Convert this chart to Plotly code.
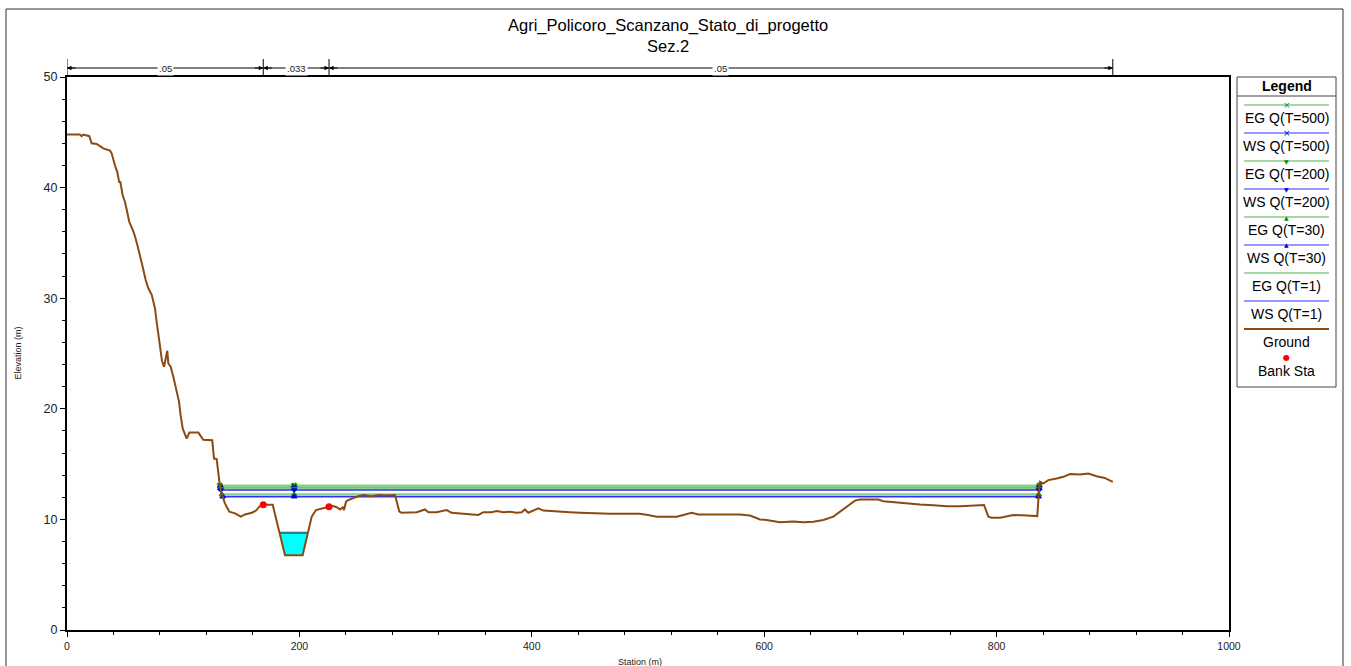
import numpy as np
import plotly.graph_objects as go

# ---------------- data ----------------
ground_sta = [0, 11, 12.6, 14, 19.2, 21.2, 25.5, 31.3, 37, 38.4,
              41.3, 43.3, 44.9, 45.9, 47.9, 49.9, 51.4, 53.6, 56.5, 58.5,
              60.8, 62.8, 65.1, 67.7, 70, 72.9, 75.7, 76.6, 78.6, 80.6,
              81.8, 83.5, 84.9, 86.3, 87.2, 89.2, 91.5, 94.4, 96.4, 97.8,
              99.6, 103, 105.3, 113, 117.3, 125, 126.5, 128.8, 130.2, 131.7,
              133.5, 135.9, 139.7, 144.6, 149.5, 153.2, 159, 162.7, 165.5, 168.9,
              177, 187.6, 202.8, 210.6, 214.3, 219.2, 225.5, 229.2, 232, 235,
              237.3, 238.4, 240.1, 242, 245, 249.3, 255, 262, 268, 275,
              282.3, 286, 288, 295.2, 301, 308, 311, 318, 326.7, 331,
              339.7, 348.3, 354, 358.3, 365.5, 369.8, 375.5, 381.2, 387, 391.3,
              394.1, 397, 400.8, 405.6, 409.9, 417, 424.3, 432.9, 441.5, 450,
              458.7, 467.3, 475.9, 484.5, 493, 500, 507.5, 516, 524.7, 530.4,
              537.6, 543.3, 552.7, 556, 567.7, 579, 587.8, 596.4, 602, 613.6,
              625, 633.6, 642.3, 650.9, 659.5, 665.2, 671, 678.1, 682.4, 698.2,
              702.5, 711.1, 722.6, 734, 745.5, 757, 768.5, 780, 789.2, 792.9,
              795.8, 803, 811.5, 814.4, 825.9, 835, 836.7, 837.3, 840.2, 844.5,
              851.7, 857.4, 863.2, 871.8, 878.9, 886.1, 893, 900]
ground_elev = [44.8, 44.8, 44.65, 44.8, 44.65, 44.0, 43.95, 43.55, 43.35, 43.1,
               42.0, 41.4, 40.5, 40.5, 39.3, 38.7, 38.0, 36.9, 36.2, 35.6,
               34.7, 33.9, 32.85, 31.65, 30.9, 30.3, 29.1, 28.3, 26.8, 25.5,
               24.3, 23.8, 24.6, 25.25, 24.1, 23.8, 22.9, 21.7, 20.65, 19.4,
               18.2, 17.3, 17.85, 17.85, 17.2, 17.15, 15.5, 15.45, 14.0, 12.95,
               12.2, 11.45, 10.7, 10.55, 10.25, 10.45, 10.6, 10.8, 11.15, 11.33,
               11.33, 6.75, 6.75, 10.25, 10.85, 11.0, 11.15, 11.2, 11.1, 10.9,
               11.1, 10.85, 11.6, 11.75, 11.9, 12.05, 12.2, 12.1, 12.2, 12.15,
               12.2, 10.7, 10.6, 10.65, 10.65, 10.9, 10.65, 10.65, 10.85, 10.6,
               10.55, 10.5, 10.4, 10.65, 10.65, 10.75, 10.65, 10.7, 10.6, 10.65,
               10.9, 10.6, 10.8, 11.0, 10.8, 10.75, 10.65, 10.65, 10.6, 10.55,
               10.55, 10.5, 10.5, 10.5, 10.5, 10.4, 10.25, 10.25, 10.25, 10.4,
               10.6, 10.45, 10.45, 10.45, 10.43, 10.45, 10.35, 10.0, 9.95, 9.75,
               9.8, 9.75, 9.78, 9.95, 10.25, 10.7, 11.2, 11.7, 11.8, 11.8,
               11.65, 11.57, 11.4, 11.35, 11.27, 11.2, 11.2, 11.25, 11.3, 10.25,
               10.15, 10.15, 10.3, 10.4, 10.35, 10.3, 12.95, 13.4, 13.25, 13.55,
               13.7, 13.85, 14.1, 14.05, 14.15, 13.9, 13.75, 13.4]
assert len(ground_sta) == len(ground_elev)

bank_sta = [168.9, 225.5]
n_values = [".05", ".033", ".05"]

profile_names = ["EG Q(T=500)", "WS Q(T=500)", "EG Q(T=200)", "WS Q(T=200)",
                 "EG Q(T=30)", "WS Q(T=30)", "EG Q(T=1)", "WS Q(T=1)"]
profile_elev = [13.05, 12.85, 12.8, 12.65, 12.25, 12.05, 8.80, 8.77]
channel_center = 195.5

title_lines = ["Agri_Policoro_Scanzano_Stato_di_progetto", "Sez.2"]
x_title = "Station (m)"
y_title = "Elevation (m)"

# ---------------- styles / layout helpers ----------------
W, H = 1351, 666
PL, PR, PT, PB = 67, 1229, 77, 630
X_RANGE = [0, 1000]
Y_RANGE = [0, 50]
FONT = "Arial, Liberation Sans, sans-serif"
NARROW = "Liberation Sans Narrow, Arial Narrow, Arial, sans-serif"

EG_COLOR = "#86cf86"
EG_MARK = "#0a8a0a"
WS_COLOR = "#3030ff"
WS_MARK = "#0000e0"
GROUND_COLOR = "#8B4A12"

styles = [
    dict(kind="EG", sym="x"), dict(kind="WS", sym="x"),
    dict(kind="EG", sym="triangle-down"), dict(kind="WS", sym="triangle-down"),
    dict(kind="EG", sym="triangle-up"), dict(kind="WS", sym="triangle-up"),
    dict(kind="EG", sym=None), dict(kind="WS", sym=None),
]


def px(x):
    return (x - PL) / (PR - PL)


def py(y):
    return (PB - y) / (PB - PT)


gs = np.array(ground_sta, dtype=float)
ge = np.array(ground_elev, dtype=float)


def wet_extent(level):
    i = int(np.argmax(ge < level))
    xl = gs[i - 1] + (ge[i - 1] - level) / (ge[i - 1] - ge[i]) * (gs[i] - gs[i - 1])
    j = len(ge) - 1 - int(np.argmax(ge[::-1] < level))
    xr = gs[j] + (level - ge[j]) / (ge[j + 1] - ge[j]) * (gs[j + 1] - gs[j])
    return xl, xr


fig = go.Figure()

# water fill for lowest WS profile
ws1 = profile_elev[-1]
xl1, xr1 = wet_extent(ws1)
inside = (gs > xl1) & (gs < xr1)
fx = [xl1] + list(gs[inside]) + [xr1, xl1]
fy = [ws1] + list(ge[inside]) + [ws1, ws1]
fig.add_trace(go.Scatter(x=fx, y=fy, fill="toself", fillcolor="#00FFFF",
                         mode="lines", line=dict(color="#00FFFF", width=0.5),
                         hoverinfo="skip", showlegend=False))

# EG / WS lines
for name, lev, st in zip(profile_names, profile_elev, styles):
    xl, xr = wet_extent(lev)
    if st["sym"] is None:
        xs = [xl, xr]
        ys = [lev, lev]
        mode = "lines"
    else:
        xs = [xl, channel_center, xr]
        ys = [lev, lev, lev]
        mode = "lines+markers"
    if st["kind"] == "EG":
        line = dict(color=EG_COLOR, width=2.5)
        mcol = EG_MARK
    else:
        line = dict(color=WS_COLOR if st["sym"] else "#1e5a8a", width=1.5)
        mcol = WS_MARK
    fig.add_trace(go.Scatter(x=xs, y=ys, mode=mode, name=name, line=line,
                             marker=dict(symbol=st["sym"] or "circle", size=5, color=mcol,
                                         line=dict(color=mcol, width=1)),
                             showlegend=False))

# ground
fig.add_trace(go.Scatter(x=ground_sta, y=ground_elev, mode="lines", name="Ground",
                         line=dict(color=GROUND_COLOR, width=2), showlegend=False))

# bank stations
bank_elev = np.interp(bank_sta, gs, ge)
fig.add_trace(go.Scatter(x=bank_sta, y=bank_elev, mode="markers", name="Bank Sta",
                         marker=dict(color="red", size=7), showlegend=False))

shapes = []
annotations = []


def note(x, y, text, size, family=FONT, color="black", **kw):
    d = dict(x=x, y=y, xref="paper", yref="paper", text=text, showarrow=False,
             xanchor="center", yanchor="middle",
             font=dict(size=size, family=family, color=color))
    d.update(kw)
    annotations.append(d)


# outer border
shapes.append(dict(type="rect", xref="paper", yref="paper",
                   x0=px(6), x1=px(1343), y0=py(700), y1=py(9),
                   line=dict(color="#333333", width=1)))

# n-value dimension lines
bounds = [ground_sta[0]] + bank_sta + [ground_sta[-1]]
y_dim = py(68)
for b in bounds:
    shapes.append(dict(type="line", xref="x", yref="paper", x0=b, x1=b,
                       y0=py(77), y1=py(59), line=dict(color="black", width=1)))
for a, b, nv in zip(bounds[:-1], bounds[1:], n_values):
    shapes.append(dict(type="line", xref="x", yref="paper", x0=a, x1=b,
                       y0=y_dim, y1=y_dim, line=dict(color="black", width=1)))
    annotations.append(dict(x=(a + b) / 2, y=y_dim, xref="x", yref="paper",
                            text=nv, showarrow=False, bgcolor="white",
                            font=dict(size=9.5, family=NARROW, color="#222"),
                            borderpad=1, xanchor="center", yanchor="middle"))
    annotations.append(dict(x=a, y=y_dim, xref="x", yref="paper", text="",
                            showarrow=True, ax=10, ay=0, arrowhead=2, arrowsize=0.9,
                            arrowwidth=1, arrowcolor="black", standoff=0))
    annotations.append(dict(x=b, y=y_dim, xref="x", yref="paper", text="",
                            showarrow=True, ax=-10, ay=0, arrowhead=2, arrowsize=0.9,
                            arrowwidth=1, arrowcolor="black", standoff=0))

# title and axis titles
note(px(668), py(35), "<br>".join(title_lines), 16.5)
note(px(17), 0.5, y_title, 9, color="#222", textangle=-90)
note(px(640), py(662), x_title, 9, family=NARROW, color="#222")

# custom legend
LX0, LX1 = 1237, 1336
shapes.append(dict(type="rect", xref="paper", yref="paper", x0=px(LX0), x1=px(LX1),
                   y0=py(387), y1=py(77), line=dict(color="#444", width=1),
                   fillcolor="white"))
shapes.append(dict(type="line", xref="paper", yref="paper", x0=px(LX0), x1=px(LX1),
                   y0=py(96), y1=py(96), line=dict(color="#444", width=1)))
lx_c = (1244 + 1329) / 2
note(px(lx_c), py(86), "<b>Legend</b>", 14)
glyph = {"x": ("×", 9), "triangle-down": ("▼", 6), "triangle-up": ("▲", 6)}
legend_entries = list(zip(profile_names, styles)) + [("Ground", dict(kind="G", sym=None))]
for i, (name, st) in enumerate(legend_entries):
    ly = 105 + 28 * i
    if st["kind"] == "EG":
        lc, lw, mc = EG_COLOR, 1.5, EG_MARK
    elif st["kind"] == "WS":
        lc, lw, mc = WS_COLOR, 1.2, WS_MARK
    else:
        lc, lw, mc = GROUND_COLOR, 2, GROUND_COLOR
    shapes.append(dict(type="line", xref="paper", yref="paper", x0=px(1244), x1=px(1329),
                       y0=py(ly), y1=py(ly), line=dict(color=lc, width=lw)))
    if st["sym"]:
        g, s = glyph[st["sym"]]
        note(px(lx_c), py(ly), g, s, family="DejaVu Sans", color=mc)
    note(px(lx_c), py(ly + 13), name, 14)
note(px(lx_c), py(357), "●", 8, family="DejaVu Sans", color="red")
note(px(lx_c), py(371), "Bank Sta", 14)

axis_common = dict(showgrid=False, zeroline=False, showline=True, mirror=True,
                   linecolor="black", linewidth=2, ticks="outside", ticklen=5,
                   tickcolor="black", tickwidth=1)

fig.update_layout(
    width=W, height=H,
    margin=dict(l=PL, r=W - PR, t=PT, b=H - PB),
    paper_bgcolor="white", plot_bgcolor="white",
    xaxis=dict(range=X_RANGE, dtick=200,
               tickfont=dict(size=10.5, family=NARROW, color="#222"),
               minor=dict(dtick=40, ticks="outside", ticklen=3, tickcolor="black"),
               **axis_common),
    yaxis=dict(range=Y_RANGE, dtick=10,
               tickfont=dict(size=12.5, family=FONT, color="#222"),
               minor=dict(dtick=2, ticks="outside", ticklen=3, tickcolor="black"),
               **axis_common),
    shapes=shapes, annotations=annotations, showlegend=False,
)

fig.write_html("out.html", config={"displayModeBar": False},
               post_script="document.body.style.margin='0';")
